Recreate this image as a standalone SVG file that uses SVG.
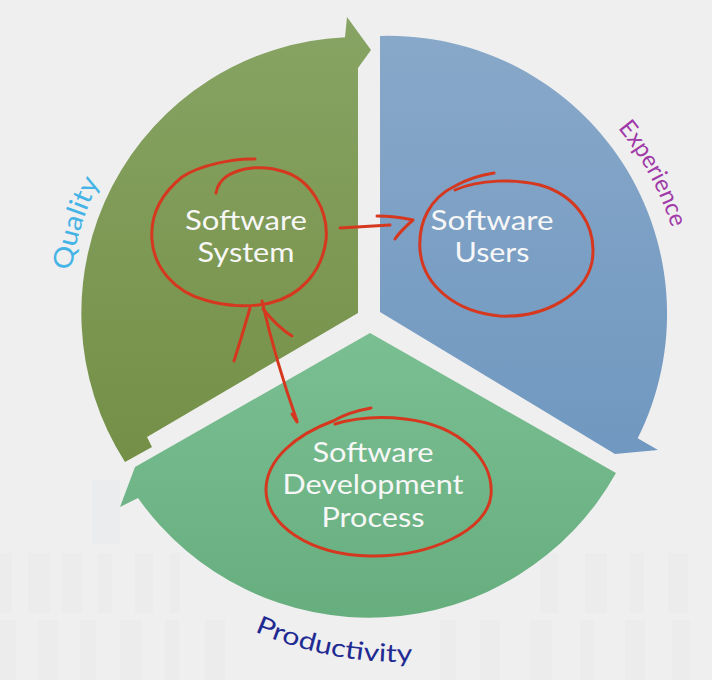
<svg xmlns="http://www.w3.org/2000/svg" width="712" height="680" viewBox="0 0 712 680">
  <defs>
    <linearGradient id="gOlive" x1="0" y1="0" x2="0" y2="1">
      <stop offset="0" stop-color="#88a464"/>
      <stop offset="1" stop-color="#748f46"/>
    </linearGradient>
    <linearGradient id="gBlue" x1="0" y1="0" x2="0" y2="1">
      <stop offset="0" stop-color="#88a8c9"/>
      <stop offset="1" stop-color="#7098c0"/>
    </linearGradient>
    <linearGradient id="gGreen" x1="0" y1="0" x2="0" y2="1">
      <stop offset="0" stop-color="#7abf92"/>
      <stop offset="1" stop-color="#67ae7f"/>
    </linearGradient>
    <path id="arcQuality" d="M 70.2 277.7 A 290 290 0 0 1 112.1 159.3"/>
    <path id="arcExperience" d="M 615.2 125 A 292 292 0 0 1 677.6 251"/>
    <path id="arcProductivity" d="M 253.6 630.9 A 360 360 0 0 0 425.1 661.1"/>
  </defs>
  <style>
    .lbl { font-family: Lato, "Open Sans", "Liberation Sans", sans-serif; fill: #f7f7f7; text-anchor: middle; }
    .cyc { font-family: Lato, "Open Sans", "Liberation Sans", sans-serif; }
    .ink { fill: none; stroke: #d5381f; stroke-width: 3; stroke-linecap: round; stroke-linejoin: round; }
    .stripe { fill: #c9c2bd; opacity: 0.05; }
  </style>

  <!-- backdrop -->
  <rect x="0" y="0" width="712" height="680" fill="#efefef"/>
  <g id="backdrop-stripes">
    <rect class="stripe" x="0" y="553" width="12" height="60"/>
    <rect class="stripe" x="28" y="553" width="22" height="60"/>
    <rect class="stripe" x="62" y="553" width="20" height="60"/>
    <rect class="stripe" x="98" y="553" width="14" height="60"/>
    <rect class="stripe" x="135" y="553" width="18" height="60"/>
    <rect class="stripe" x="170" y="553" width="10" height="60"/>
    <rect class="stripe" x="540" y="553" width="18" height="60"/>
    <rect class="stripe" x="585" y="553" width="22" height="60"/>
    <rect class="stripe" x="630" y="553" width="14" height="60"/>
    <rect class="stripe" x="668" y="553" width="20" height="60"/>
    <rect class="stripe" x="0" y="620" width="16" height="60"/>
    <rect class="stripe" x="38" y="620" width="20" height="60"/>
    <rect class="stripe" x="80" y="620" width="16" height="60"/>
    <rect class="stripe" x="120" y="620" width="22" height="60"/>
    <rect class="stripe" x="165" y="620" width="14" height="60"/>
    <rect class="stripe" x="205" y="620" width="20" height="60"/>
    <rect class="stripe" x="440" y="620" width="16" height="60"/>
    <rect class="stripe" x="480" y="620" width="20" height="60"/>
    <rect class="stripe" x="530" y="620" width="22" height="60"/>
    <rect class="stripe" x="580" y="620" width="14" height="60"/>
    <rect class="stripe" x="625" y="620" width="20" height="60"/>
    <rect class="stripe" x="672" y="620" width="18" height="60"/>
    <rect x="92" y="480" width="28" height="64" fill="#bcd0dc" opacity="0.08"/>
  </g>

  <!-- Quality segment -->
  <g id="node-software-system">
    <path d="M 358 313 L 358 68 L 371 50 L 347 17 L 345 37.3 A 276 276 0 0 0 125 462 L 152 447 L 147 437 Z" fill="url(#gOlive)"/>
    <text class="lbl" font-size="27" x="246" y="230" textLength="122" lengthAdjust="spacingAndGlyphs">Software</text>
    <text class="lbl" font-size="27" x="246" y="262" textLength="97" lengthAdjust="spacingAndGlyphs">System</text>
  </g>

  <!-- Experience segment -->
  <g id="node-software-users">
    <path d="M 380 312 L 380 36 A 278 278 0 0 1 637.7 438.2 L 658 450 L 615 454 Z" fill="url(#gBlue)"/>
    <text class="lbl" font-size="27" x="492" y="230" textLength="123" lengthAdjust="spacingAndGlyphs">Software</text>
    <text class="lbl" font-size="27" x="492" y="262" textLength="75" lengthAdjust="spacingAndGlyphs">Users</text>
  </g>

  <!-- Productivity segment -->
  <g id="node-development-process">
    <path d="M 370 333 L 616 473 A 283 283 0 0 1 138 498 L 120 507 L 135 467 Z" fill="url(#gGreen)"/>
    <text class="lbl" font-size="26" x="373" y="462" textLength="121" lengthAdjust="spacingAndGlyphs">Software</text>
    <text class="lbl" font-size="26" x="373" y="494" textLength="181" lengthAdjust="spacingAndGlyphs">Development</text>
    <text class="lbl" font-size="26" x="373" y="527" textLength="103" lengthAdjust="spacingAndGlyphs">Process</text>
  </g>

  <!-- cycle labels along the rim -->
  <g id="rim-labels">
    <text class="cyc" font-size="27" fill="#44b3e6"><textPath href="#arcQuality" startOffset="7" textLength="94" lengthAdjust="spacingAndGlyphs">Quality</textPath></text>
    <text class="cyc" font-size="24" fill="#a03aa8"><textPath href="#arcExperience" startOffset="4" textLength="114" lengthAdjust="spacingAndGlyphs">Experience</textPath></text>
    <text class="cyc" font-size="25" fill="#1f2b92"><textPath href="#arcProductivity" startOffset="1" textLength="162" lengthAdjust="spacingAndGlyphs">Productivity</textPath></text>
  </g>

  <!-- hand-drawn red connectors and rings -->
  <g id="connectors">
    <path class="ink" d="M 255 159 C 235 158, 200 165, 182 177 C 160 195, 150 215, 152 240 C 154 268, 175 292, 205 300 C 225 306, 250 308, 270 303 C 300 296, 322 272, 326 240 C 329 210, 310 180, 285 172 C 262 164, 240 168, 227 176 C 220 181, 217 187, 216 193"/>
    <path class="ink" d="M 494 173 C 480 175, 466 180, 455 186 C 430 198, 418 222, 420 250 C 423 285, 455 312, 500 316 C 545 318, 585 295, 592 262 C 598 225, 575 195, 540 185 C 515 179, 480 179, 455 190"/>
    <path class="ink" d="M 371 408 C 360 410, 345 414, 333 421 C 295 435, 266 460, 266 490 C 266 525, 310 555, 370 556 C 430 557, 488 530, 491 495 C 494 460, 460 425, 405 419 C 380 416, 355 418, 335 424"/>
    <path class="ink" d="M 340 228 C 355 227, 375 226, 390 225"/>
    <path class="ink" d="M 377 216 C 392 216, 404 218, 413 220 C 405 227, 399 233, 395 239"/>
    <path class="ink" d="M 262 301 Q 276 362 297 421"/>
    <path class="ink" d="M 292 414 L 297 422"/>
    <path class="ink" d="M 250 308 Q 242 336 234 361"/>
    <path class="ink" d="M 263 309 C 272 320, 282 330, 292 336"/>
  </g>
</svg>
